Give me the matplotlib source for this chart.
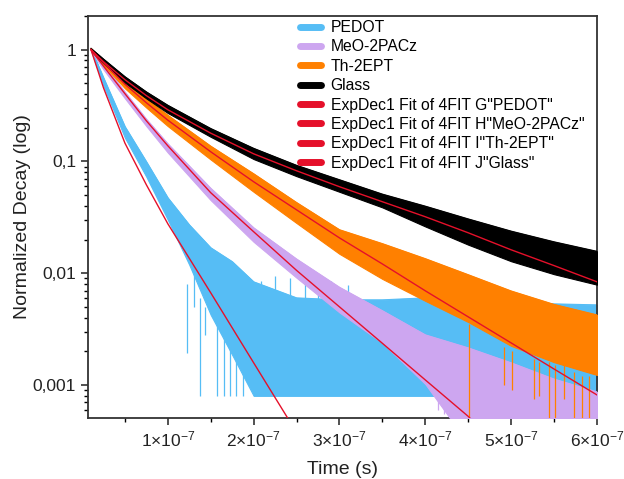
import matplotlib
matplotlib.use('Agg')
import matplotlib.pyplot as plt
from matplotlib.ticker import FixedLocator, MultipleLocator, LogLocator, NullFormatter

plt.rcParams['font.family'] = ['Liberation Sans', 'DejaVu Sans']
plt.rcParams['mathtext.fontset'] = 'custom'
plt.rcParams['mathtext.rm'] = 'Liberation Sans'
plt.rcParams['mathtext.it'] = 'Liberation Sans:italic'

# time grid (units of 1e-7 s)
t = [0.105, 0.25, 0.5, 0.75, 1.0, 1.5, 2.0, 2.5, 3.0, 3.5, 4.0, 4.5, 5.0, 5.5, 6.0]

# noisy decay bands (upper / lower edge of the dense trace)
t_pedot = [0.105, 0.25, 0.5, 0.75, 1.0, 1.25, 1.5, 1.75, 2.0, 2.5, 3.0, 3.5, 4.0, 4.5, 5.0, 5.5, 6.0]
pedot_hi = [1.025, 0.561, 0.205, 0.0994, 0.0473, 0.0271, 0.0169, 0.0127, 0.00838,
            0.00602, 0.00578, 0.00578, 0.00602, 0.00578, 0.00555, 0.00532, 0.00521]
pedot_lo = [0.976, 0.476, 0.163, 0.0729, 0.0301, 0.0119, 0.00424, 0.00186, 0.0008,
            0.0008, 0.0008, 0.0008, 0.0008, 0.0008, 0.0008, 0.0008, 0.0008]

meo_hi = [1.025, 0.746, 0.418, 0.239, 0.144, 0.0575, 0.0255, 0.0134, 0.00749,
          0.00462, 0.00281, 0.00215, 0.00158, 0.00113, 0.000868]
meo_lo = [0.976, 0.665, 0.367, 0.207, 0.120, 0.0450, 0.0191, 0.00911, 0.00446,
          0.00238, 0.00102, 0.0003, 0.0003, 0.0003, 0.0003]

th_hi = [1.025, 0.804, 0.524, 0.364, 0.259, 0.137, 0.0776, 0.0429, 0.0245,
         0.0184, 0.0135, 0.0097, 0.00694, 0.00526, 0.00424]
th_lo = [0.976, 0.728, 0.451, 0.303, 0.207, 0.104, 0.0535, 0.0281, 0.0149,
         0.00889, 0.00566, 0.00366, 0.00224, 0.00160, 0.00123]

glass_hi = [1.025, 0.824, 0.573, 0.419, 0.318, 0.197, 0.131, 0.0923, 0.0686,
            0.0510, 0.0398, 0.0306, 0.0238, 0.0191, 0.0157]
glass_lo = [0.976, 0.756, 0.507, 0.366, 0.271, 0.166, 0.105, 0.0738, 0.0535,
            0.0388, 0.0262, 0.0180, 0.0128, 0.0098, 0.0079]

# isolated spikes sticking out of the bands
pedot_spike_t = [1.22, 1.31, 1.37, 1.43, 1.55, 1.57, 1.65, 1.70, 1.72, 1.80, 1.84, 1.88,
                 2.09, 2.25, 2.42, 2.60, 2.75, 2.90, 3.10]
pedot_spike_lo = [0.00193, 0.005, 0.0008, 0.0028, 0.004, 0.0008, 0.0008, 0.004, 0.0008, 0.0008,
                  0.004, 0.0008, 0.004, 0.004, 0.004, 0.004, 0.004, 0.004, 0.004]
pedot_spike_hi = [0.008, 0.0126, 0.006, 0.005, 0.0126, 0.004, 0.004, 0.0087, 0.003, 0.003,
                  0.0095, 0.003, 0.0085, 0.0095, 0.0090, 0.0082, 0.0080, 0.0085, 0.0078]

meo_spike_t = [4.15, 4.22, 4.30, 4.38]
meo_spike_lo = [0.0006, 0.00055, 0.0003, 0.0003]
meo_spike_hi = [0.0012, 0.0012, 0.0011, 0.0010]

th_spike_t = [4.51, 4.92, 5.01, 5.27, 5.33, 5.44, 5.51, 5.62, 5.73, 5.83, 5.91]
th_spike_lo = [0.0003, 0.00101, 0.0009, 0.00075, 0.0008, 0.0003, 0.0003, 0.00075, 0.0003, 0.0003, 0.0003]
th_spike_hi = [0.0035, 0.0022, 0.0020, 0.0017, 0.0016, 0.0016, 0.0015, 0.0015, 0.0013, 0.0012, 0.0012]

# ExpDec1 fits
fit_pedot_t = [0.105, 0.25, 0.5, 0.75, 1.0, 1.5, 2.0, 2.5]
fit_pedot = [1.0, 0.457, 0.146, 0.0618, 0.0277, 0.00668, 0.00158, 0.000376]
fit_meo_t = [0.105, 0.25, 0.5, 0.75, 1.0, 1.5, 2.0, 2.5, 3.0, 3.5, 4.0, 4.5, 4.6]
fit_meo = [1.0, 0.712, 0.404, 0.231, 0.138, 0.0525, 0.0235, 0.0106, 0.0050,
           0.00236, 0.00111, 0.000524, 0.000439]
fit_th = [1.0, 0.765, 0.491, 0.335, 0.234, 0.122, 0.0658, 0.0369, 0.0207,
          0.0121, 0.00696, 0.00407, 0.00238, 0.00139, 0.000815]
fit_glass = [1.0, 0.781, 0.539, 0.388, 0.290, 0.179, 0.117, 0.0825, 0.0594,
             0.0436, 0.0320, 0.0230, 0.0162, 0.0117, 0.00838]

c_pedot = '#56BDF5'
c_meo = '#CDA6F0'
c_th = '#FF8000'
c_glass = '#000000'
c_fit = '#E5102A'

def sec(v):
    return [x * 1e-7 for x in v]

fig = plt.figure(figsize=(6.24, 4.79), dpi=100)
ax = fig.add_axes([88 / 624, 1 - 418 / 479, 509 / 624, 402 / 479])

series = [
    ('PEDOT', t_pedot, pedot_hi, pedot_lo, c_pedot, pedot_spike_t, pedot_spike_lo, pedot_spike_hi),
    ('MeO-2PACz', t, meo_hi, meo_lo, c_meo, meo_spike_t, meo_spike_lo, meo_spike_hi),
    ('Th-2EPT', t, th_hi, th_lo, c_th, th_spike_t, th_spike_lo, th_spike_hi),
    ('Glass', t, glass_hi, glass_lo, c_glass, [], [], []),
]
handles = []
z = 2
for name, tt, hi, lo, col, st, slo, shi in series:
    ax.fill_between(sec(tt), lo, hi, color=col, lw=0.8, zorder=z)
    h, = ax.plot(sec(tt), hi, color=col, lw=0.8, zorder=z, label=name)
    if st:
        ax.vlines(sec(st), slo, shi, colors=col, lw=0.9, zorder=z)
    handles.append(h)
    z += 1

fits = [
    ('ExpDec1 Fit of 4FIT G"PEDOT"', fit_pedot_t, fit_pedot),
    ('ExpDec1 Fit of 4FIT H"MeO-2PACz"', fit_meo_t, fit_meo),
    ('ExpDec1 Fit of 4FIT I"Th-2EPT"', t, fit_th),
    ('ExpDec1 Fit of 4FIT J"Glass"', t, fit_glass),
]
for name, tt, v in fits:
    h, = ax.plot(sec(tt), v, color=c_fit, lw=1.0, zorder=10, label=name)
    handles.append(h)

ax.set_yscale('log')
ax.set_xlim(0.07e-7, 6.0e-7)
ax.set_ylim(5.07e-4, 2.0)

ax.yaxis.set_major_locator(FixedLocator([0.001, 0.01, 0.1, 1]))
ax.set_yticklabels(['0,001', '0,01', '0,1', '1'])
ax.yaxis.set_minor_locator(LogLocator(base=10, subs=range(2, 10)))
ax.yaxis.set_minor_formatter(NullFormatter())

xt = [1e-7, 2e-7, 3e-7, 4e-7, 5e-7, 6e-7]
ax.xaxis.set_major_locator(FixedLocator(xt))
ax.set_xticklabels([r'%d$\times$10$^{-7}$' % k for k in range(1, 7)])
ax.xaxis.set_minor_locator(MultipleLocator(0.5e-7))

ax.tick_params(which='major', direction='out', length=5, width=1.1, labelsize=12.5, colors='#222222')
ax.tick_params(which='minor', direction='out', length=3, width=1.0)
for s in ax.spines.values():
    s.set_color('#333333')
    s.set_linewidth(1.3)

ax.set_xlabel('Time (s)', fontsize=14, color='#222222', labelpad=8)
ax.set_ylabel('Normalized Decay (log)', fontsize=14, color='#222222', labelpad=1)

leg = ax.legend(handles=handles, loc='upper left', bbox_to_anchor=(0.4165, 0.99),
                frameon=False, fontsize=11.3, borderpad=0, borderaxespad=0,
                labelspacing=0.28, handlelength=1.35, handletextpad=0.6)
for line in leg.get_lines():
    line.set_linewidth(5)
    line.set_solid_capstyle('round')

fig.savefig('out.png', dpi=100)
